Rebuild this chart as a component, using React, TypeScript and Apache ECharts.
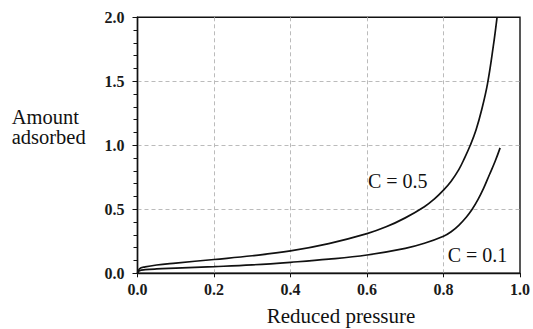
import React, { useEffect, useRef } from "react";
import * as echarts from "echarts";

const pressureC05 = [0, 0.005, 0.02, 0.05, 0.1, 0.2, 0.3, 0.4, 0.5, 0.6, 0.65, 0.7, 0.75, 0.775, 0.8, 0.82, 0.84, 0.855, 0.87, 0.885, 0.9, 0.915, 0.93, 0.94];
const amountC05 = [0, 0.035, 0.05, 0.065, 0.08, 0.108, 0.137, 0.175, 0.232, 0.31, 0.363, 0.433, 0.52, 0.578, 0.65, 0.72, 0.81, 0.9, 1.0, 1.12, 1.28, 1.48, 1.77, 2.0];

const pressureC01 = [0, 0.005, 0.02, 0.05, 0.1, 0.2, 0.3, 0.4, 0.5, 0.6, 0.7, 0.75, 0.8, 0.82, 0.84, 0.86, 0.875, 0.89, 0.905, 0.92, 0.935, 0.948];
const amountC01 = [0, 0.02, 0.028, 0.034, 0.04, 0.052, 0.066, 0.086, 0.11, 0.143, 0.195, 0.235, 0.29, 0.325, 0.375, 0.44, 0.5, 0.575, 0.665, 0.77, 0.875, 0.98];

const xTicks = ["0.0", "0.2", "0.4", "0.6", "0.8", "1.0"];
const yTicks = ["0.0", "0.5", "1.0", "1.5", "2.0"];

const FONT = "Times New Roman, Liberation Serif, serif";

export default function App() {
  const ref = useRef<HTMLDivElement>(null);
  useEffect(() => {
    if (!ref.current) return;
    const chart = echarts.init(ref.current, undefined, { renderer: "svg" });
    const zip = (xs: number[], ys: number[]) => xs.map((x, i) => [x, ys[i]]);
    const label = (text: string, x: number, y: number, size: number, align = "center") => ({
      type: "text",
      x,
      y,
      style: {
        text,
        fontFamily: FONT,
        fontSize: size,
        fill: "#111",
        align,
        verticalAlign: "middle",
      },
    });
    chart.setOption({
      animation: false,
      backgroundColor: "#fff",
      textStyle: { fontFamily: FONT },
      grid: {
        left: 137.5,
        right: 11.3,
        top: 17.3,
        bottom: 55.7,
        show: true,
        borderColor: "#111",
        borderWidth: 1.4,
        backgroundColor: "transparent",
      },
      xAxis: {
        type: "value",
        min: 0,
        max: 1,
        interval: 0.2,
        axisLine: { show: true, lineStyle: { color: "#111", width: 1.4 } },
        axisTick: { show: true, inside: false, length: 4, lineStyle: { color: "#111" } },
        axisLabel: {
          margin: 8,
          fontFamily: FONT,
          fontSize: 16,
          fontWeight: "bold",
          color: "#1a1a1a",
          formatter: (v: number) => xTicks[Math.round(v / 0.2)] ?? "",
        },
        splitLine: {
          show: true,
          showMinLine: false,
          showMaxLine: false,
          lineStyle: { color: "#bbb", type: [4, 3], width: 1 },
        },
      },
      yAxis: {
        type: "value",
        min: 0,
        max: 2,
        interval: 0.5,
        axisLine: { show: true, lineStyle: { color: "#111", width: 1.4 } },
        axisTick: { show: true, inside: false, length: 5, lineStyle: { color: "#111" } },
        minorTick: { show: true, splitNumber: 5, length: 4, lineStyle: { color: "#111" } },
        axisLabel: {
          margin: 13,
          fontFamily: FONT,
          fontSize: 16,
          fontWeight: "bold",
          color: "#1a1a1a",
          formatter: (v: number) => yTicks[Math.round(v / 0.5)] ?? "",
        },
        splitLine: {
          show: true,
          showMinLine: false,
          showMaxLine: false,
          lineStyle: { color: "#bbb", type: [4, 3], width: 1 },
        },
      },
      series: [
        {
          name: "C = 0.5",
          type: "line",
          data: zip(pressureC05, amountC05),
          showSymbol: false,
          smooth: 0.4,
          lineStyle: { color: "#111", width: 1.7 },
        },
        {
          name: "C = 0.1",
          type: "line",
          data: zip(pressureC01, amountC01),
          showSymbol: false,
          smooth: 0.4,
          lineStyle: { color: "#111", width: 1.7 },
        },
      ],
      graphic: [
        label("Amount", 11.7, 117.3, 20.5, "left"),
        label("adsorbed", 11.7, 137.3, 20.5, "left"),
        label("Reduced pressure", 341, 315.7, 21),
        label("C = 0.5", 397.7, 181.3, 20),
        label("C = 0.1", 477.5, 254.7, 20),
      ],
    });
    return () => chart.dispose();
  }, []);
  return (
    <div
      ref={ref}
      style={{ position: "fixed", left: 0, top: 0, width: 533, height: 329 }}
    />
  );
}
